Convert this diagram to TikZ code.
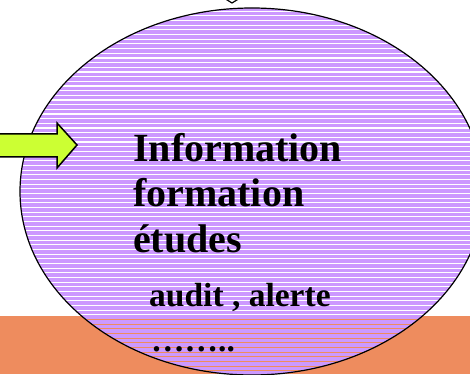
\documentclass[tikz,border=0pt]{standalone}
\usepackage{fontspec}
\setmainfont{Liberation Serif}
\usetikzlibrary{shapes.geometric}
\definecolor{lavender}{HTML}{CC99FF}
\definecolor{salmon}{HTML}{EE8C5E}
\definecolor{lime}{HTML}{CCFF33}
\begin{document}
\begin{tikzpicture}[x=1pt,y=1pt,
  bigtxt/.style={anchor=base west,inner sep=0pt,font=\fontsize{40}{42}\selectfont\bfseries},
  smalltxt/.style={anchor=base west,inner sep=0pt,font=\fontsize{33.5}{35}\selectfont\bfseries}]
\useasboundingbox (0,0) rectangle (470,374);
\clip (0,0) rectangle (470,374);

\fill[salmon] (0,0) rectangle (470,58);

% striped ellipse
\begin{scope}
\clip (252,182.5) ellipse [x radius=232,y radius=183.5];
\foreach \y in {-1,3.67,...,374} \fill[lavender] (0,\y) rectangle (470,\y+3.6);
\end{scope}
\node (E) at (252,182.5)[draw,line width=1.2pt,ellipse,inner sep=0pt,minimum width=464pt,minimum height=367pt] {};

% arrows
\draw[fill=lime,line width=1.5pt,line join=miter] (-5,240) -- (57,240) -- (57,251) -- (77,229) -- (57,206) -- (57,217) -- (-5,217) -- cycle;
\draw[fill=white,line width=1.2pt] (224,376) -- (232,371) -- (240,376);

\node (info) at (133,212)[bigtxt] {Information};
\node (form) at (133,167)[bigtxt] {formation};
\node (etud) at (133,121)[bigtxt] {études};
\node (audit) at (149,67)[smalltxt] {audit , alerte};
\node (dots) at (151,23)[smalltxt] {……..};
\end{tikzpicture}
\end{document}
